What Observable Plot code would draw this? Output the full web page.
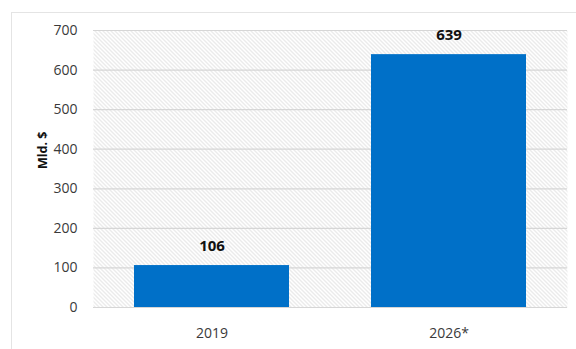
<!DOCTYPE html>
<html><head><meta charset="utf-8">
<script src="https://cdn.jsdelivr.net/npm/d3@7"></script>
<script src="https://cdn.jsdelivr.net/npm/@observablehq/plot@0.6"></script>
<style>
body{margin:0;background:#fff;font-family:"Open Sans",sans-serif;}
#card{position:absolute;left:11px;top:12px;width:620px;height:400px;border-top:1px solid #e4e4e4;border-left:1px solid #e4e4e4;}
#chart{position:absolute;left:0;top:0;}
</style></head>
<body>
<div id="card"></div>
<div id="chart"></div>
<script>
const years = ["2019", "2026*"];
const values = [106, 639];
const yTicks = [0, 100, 200, 300, 400, 500, 600, 700];
const yLabel = "Mld. $";

const data = years.map((y, i) => ({year: y, value: values[i]}));

const chart = Plot.plot({
  width: 576,
  height: 349,
  marginLeft: 93,
  marginRight: 9,
  marginTop: 30,
  marginBottom: 42,
  style: {fontFamily: "'Open Sans', sans-serif", background: "transparent", color: "#3a3a3a"},
  x: {domain: years, paddingInner: 0.346, paddingOuter: 0.173, label: null},
  y: {domain: [0, 700], label: null},
  marks: [
    Plot.frame({fill: "url(#hatch)", stroke: null}),
    Plot.gridY(yTicks, {stroke: "#d6d6d6", strokeOpacity: 1, strokeWidth: 1.2}),
    Plot.barY(data, {x: "year", y: "value", fill: "#0070c8"}),
    Plot.text(data, {x: "year", y: "value", text: d => String(d.value), dy: -19, fontSize: 15, fontWeight: "bold", fill: "#111"}),
    Plot.axisY(yTicks, {tickSize: 0, tickPadding: 16, fontSize: 14, label: null}),
    Plot.axisX({tickSize: 0, tickPadding: 21, fontSize: 14, label: null}),
    Plot.text([yLabel], {frameAnchor: "left", dx: -51, rotate: -90, fontSize: 12.5, fontWeight: "bold", fill: "#111", text: d => d})
  ]
});

const ns = "http://www.w3.org/2000/svg";
const defs = document.createElementNS(ns, "defs");
defs.innerHTML = `<pattern id="hatch" patternUnits="userSpaceOnUse" width="4" height="4">
<rect width="4" height="4" fill="#ffffff"/>
<path d="M-1,-1 L5,5 M-1,3 L1,5 M3,-1 L5,1" stroke="#d2d2d2" stroke-width="0.9"/>
</pattern>`;
chart.insertBefore(defs, chart.firstChild);
document.getElementById("chart").appendChild(chart);
</script>
</body></html>
